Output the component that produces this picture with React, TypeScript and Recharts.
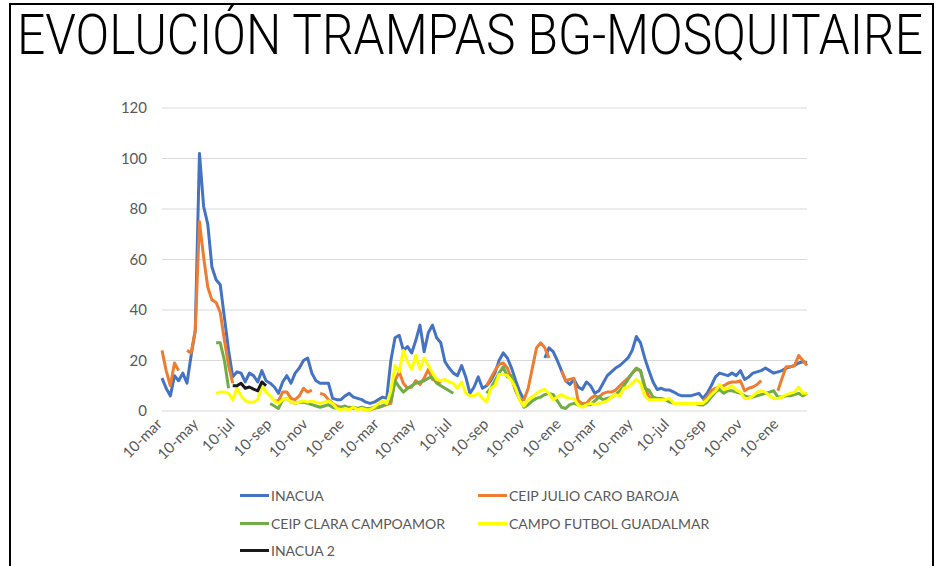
import React from "react";
import { LineChart, Line, XAxis, YAxis, CartesianGrid } from "recharts";

const TITLE = "EVOLUCIÓN TRAMPAS BG-MOSQUITAIRE";
const START_DATE = "2018-03-10"; // first weekly sample
const SAMPLE_DAYS = 7;

const tickLabels = [
  "10-mar", "10-may", "10-jul", "10-sep", "10-nov", "10-ene",
  "10-mar", "10-may", "10-jul", "10-sep", "10-nov", "10-ene",
  "10-mar", "10-may", "10-jul", "10-sep", "10-nov", "10-ene",
];
const tickDates = [
  "2018-03-10", "2018-05-10", "2018-07-10", "2018-09-10", "2018-11-10", "2019-01-10",
  "2019-03-10", "2019-05-10", "2019-07-10", "2019-09-10", "2019-11-10", "2020-01-10",
  "2020-03-10", "2020-05-10", "2020-07-10", "2020-09-10", "2020-11-10", "2021-01-10",
];
const yTicks = [0, 20, 40, 60, 80, 100, 120];

const N = null;

const inacua = [
  13, 9, 6, 14, 12, 15, 11, 22, 32, 102,
  81, 74, 57, 52, 50, 37, 24, 13.5, 15.5, 15,
  11.5, 15, 14, 11.5, 16, 12, 11, 9.5, 7, 11.5,
  14, 11, 15, 17, 20, 21, 15, 12, 11, 11,
  11, 5, 4.5, 4.5, 6, 7, 5.5, 5, 4.5, 3.5,
  3, 3.5, 4.5, 5.5, 5, 20, 29, 30, 24, 25.5,
  23, 28, 34, 23.5, 31, 34, 29, 27, 19.5, 17,
  15, 14, 18, 13.5, 7, 9.5, 13.5, 9, 10, 12,
  15, 20, 23, 21, 17, 12, 7.5, 4.5, N, N,
  N, N, 21, 25, 23.5, 20, 16, 12, 10.5, 12.5,
  9.5, 8.5, 11.5, 10, 7, 8, 11, 14, 15.5, 17,
  18, 19.5, 21, 24, 29.5, 27, 21, 16, 11.5, 8.5,
  9, 8.3, 8.3, 7.5, 6.5, 6, 6, 6, 6.5, 7,
  5, 7, 10, 13.5, 15, 14.5, 14, 15, 14, 16,
  12.5, 13.5, 15, 15.5, 16, 17, 16, 15, 15.5, 16,
  17, 17.5, 18, 19, 19.5, 19,
];

const julioCaro = [
  24, 16, 10, 19, 16, N, 24, 23, 32, 75,
  61, 49, 44, 43, 39, 28, 18, 11, N, N,
  N, N, N, N, N, N, N, 4, 4, 7.5,
  7.5, 5, 4.5, 6, 9, 7.5, 8.3, N, 7, 6.5,
  4.5, 3, 2, 1.5, 1.5, 1.5, 1, 1, 1, 0.5,
  0.5, 1, 1.5, 2, 2.5, 3, 12, 15.5, 11, 9,
  9.5, 12, 10.5, 13, 16.5, 12.5, 12, 11, N, N,
  N, N, N, N, N, N, N, N, 10, 13,
  16, 18.5, 19, 17, 12.5, 8, 4.5, 4.5, 9, 17,
  25, 27, 25, 21, N, N, 16, 12, 12.5, 13,
  4, 3, 3, 5, 6, 5.5, 7, 7.5, 7.5, 8.3,
  10, 11.5, 13, 15, 16.5, 16, 10, 5.5, 4.5, N,
  N, N, N, N, N, N, N, N, N, N,
  4, 5.5, 8, 9, 9.5, 10, 11, 11.5, 11.5, 12,
  8, 9, 9.5, 10.5, 12, N, N, N, 8, 13,
  17.5, 17.5, 18, 22, 20, 18,
];

const claraCampoamor = [
  N, N, N, N, N, N, N, N, N, N,
  N, N, N, 27, 27, 20, 9, N, N, N,
  N, N, N, N, N, N, 3, 2, 1, 4.5,
  5, 3.5, 3, 3.5, 3.5, 3, 2.5, 2, 1.5, 2,
  2.5, 1.5, 1, 1.5, 2, 1, 1.5, 1, 1.5, 1,
  1, 1.5, 1.5, 2, 3, 4, 12, 9.5, 7.5, 9,
  10, 11, 11.5, 12, 13, 13.5, 11, 10, 9, 8,
  7, N, N, N, N, N, N, N, 7, 9,
  12, 15, 17.5, 13.5, 14, 8.3, 4.5, 1.5, 2.5, 4,
  5, 5.5, 6.5, 7, 6.5, 4, 1.5, 1, 2.5, 3,
  2.4, 2, 2.5, 2.5, 4, 5.5, 4.5, 5, 5.5, 6.5,
  8, 10, 12.5, 15, 17, 16, 9, 8.3, 5.5, 5,
  5, 4.5, 3.5, 3, 3, 3, 3, 3, 3, 2.5,
  2.4, 3.5, 5.5, 7.5, 8.5, 7, 8, 8, 7.5, 7,
  6, 5.5, 5.5, 6, 6.5, 7, 7.5, 8, 5.5, 5.5,
  6, 6, 6.5, 7, 6, 7,
];

const campoFutbol = [
  N, N, N, N, N, N, N, N, N, N,
  N, N, N, 7, 7.5, 7.5, 7, 4.5, 9, 6,
  4, 3.5, 3.5, 4.5, 10, 7.5, 6, 4, 3, 4.5,
  5, 3.5, 3, 3.5, 4, 3.5, 4, 3.5, 3, 3.5,
  4, 3, 1, 0.5, 1, 0.5, 1.5, 0.5, 1, 0.5,
  0.5, 1.5, 3, 4, 3, 8, 18, 15.5, 24, 19.5,
  16.5, 22, 16.5, 21, 18, 15, 12.5, 12, 12.5, 11.5,
  11, 9, 11.5, 7, 6, 6, 7, 5, 3.5, 9,
  10, 14.5, 14.5, 14, 12, 9, 4, 2, 4.5, 5.5,
  7, 8, 8.5, 7, 4.5, 5.5, 6.5, 5.5, 5, 5,
  2.4, 1.5, 2.5, 3, 2.5, 3, 3.5, 4, 5.5, 6.5,
  6, 9, 9.5, 11, 12.5, 11, 6, 4.5, 4.5, 4.5,
  4.5, 4.5, 5, 3, 3, 3, 3, 3, 3, 3,
  3, 4.5, 6.5, 8, 10.5, 8.5, 9, 10, 8.3, 7.5,
  5, 5, 6, 7.5, 8, 7.5, 6, 5, 5, 5.5,
  6.5, 7, 7.5, 9.5, 7, 7,
];

const inacua2 = [
  N, N, N, N, N, N, N, N, N, N,
  N, N, N, N, N, N, N, 10, 10, 11,
  9, 9.5, 8.7, 8, 11.5, 10,
];

const seriesDefs = [
  { key: "inacua", name: "INACUA", color: "#4472C4", values: inacua },
  { key: "julio", name: "CEIP JULIO CARO BAROJA", color: "#ED7D31", values: julioCaro },
  { key: "clara", name: "CEIP CLARA CAMPOAMOR", color: "#70AD47", values: claraCampoamor },
  { key: "campo", name: "CAMPO FUTBOL GUADALMAR", color: "#FFFF00", values: campoFutbol },
  { key: "inacua2", name: "INACUA 2", color: "#1a1a1a", values: inacua2 },
];

const DAY_MS = 86400000;
const dayOffset = (d: string) => (Date.parse(d) - Date.parse(START_DATE)) / DAY_MS;
const xTicks = tickDates.map((d) => dayOffset(d) / SAMPLE_DAYS);

const data = inacua.map((_, i) => {
  const row: Record<string, number | null> = { w: i };
  seriesDefs.forEach((s) => {
    const v = s.values[i];
    row[s.key] = v === undefined ? null : v;
  });
  return row;
});

const LAST = inacua.length - 1;
const FONT = "Lato, 'Open Sans', 'DejaVu Sans', sans-serif";
const GRAY = "#595959";

const XTick = (props: any) => {
  const { x, y, payload } = props;
  const idx = xTicks.findIndex((t) => Math.abs(t - payload.value) < 1e-6);
  const label = idx >= 0 ? tickLabels[idx] : "";
  return (
    <g transform={`translate(${x + 1},${y + 6})`}>
      <text x={0} y={0} textAnchor="end" transform="rotate(-45)" fill={GRAY} fontSize={15} fontFamily={FONT}>
        {label}
      </text>
    </g>
  );
};

const legendRows = [
  [seriesDefs[0], seriesDefs[1]],
  [seriesDefs[2], seriesDefs[3]],
  [seriesDefs[4]],
];

export default function App() {
  return (
    <div style={{ position: "absolute", left: 0, top: 0, width: 943, height: 566, background: "#fff", overflow: "hidden" }}>
      <LineChart
        width={943}
        height={566}
        data={data}
        margin={{ top: 108, right: 136, left: 102, bottom: 125 }}
      >
        <CartesianGrid vertical={false} stroke="#d9d9d9" strokeWidth={1.2} />
        <XAxis
          dataKey="w"
          type="number"
          domain={[0, LAST]}
          ticks={xTicks}
          interval={0}
          axisLine={false}
          tickLine={false}
          height={30}
          tick={<XTick />}
        />
        <YAxis
          domain={[0, 120]}
          ticks={yTicks}
          axisLine={false}
          tickLine={false}
          width={60}
          tickMargin={9}
          tick={{ fill: GRAY, fontSize: 15, fontFamily: FONT }}
        />
        {seriesDefs.map((s) => (
          <Line
            key={s.key}
            dataKey={s.key}
            name={s.name}
            stroke={s.color}
            strokeWidth={3}
            dot={false}
            activeDot={false}
            connectNulls={false}
            isAnimationActive={false}
            strokeLinejoin="round"
            type="linear"
          />
        ))}
      </LineChart>

      <div style={{ position: "absolute", left: 240, top: 482, fontFamily: FONT, fontSize: 14, color: GRAY }}>
        {legendRows.map((row, ri) => (
          <div key={ri} style={{ display: "flex", height: 27.5, alignItems: "center" }}>
            {row.map((s) => (
              <div key={s.key} style={{ display: "flex", alignItems: "center", width: 238 }}>
                <span style={{ display: "inline-block", width: 29, height: 3, background: s.color, marginRight: 2 }} />
                <span style={{ whiteSpace: "nowrap" }}>{s.name}</span>
              </div>
            ))}
          </div>
        ))}
      </div>

      <svg width={943} height={566} style={{ position: "absolute", left: 0, top: 0, pointerEvents: "none" }}>
        <rect x={10} y={4} width={923} height={600} fill="none" stroke="#000" strokeWidth={2} />
        <g transform="translate(17,54) scale(1.014,1.15)">
          <text x={0} y={0} fontSize={49} fontWeight={300} fontFamily="Roboto, 'Open Sans', sans-serif" fill="#000">
            {TITLE}
          </text>
        </g>
      </svg>
    </div>
  );
}
